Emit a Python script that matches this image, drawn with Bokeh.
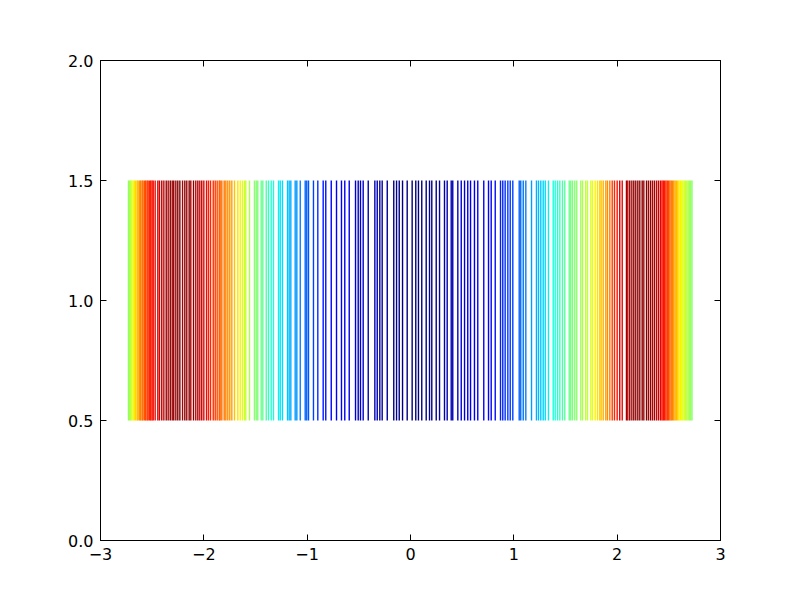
import numpy as np
from bokeh.plotting import figure
from bokeh.models import ColumnDataSource, LinearColorMapper, LinearAxis, FixedTicker
from bokeh.transform import transform
from bokeh.embed import file_html
from bokeh.resources import INLINE

# event positions (x)
event_x = [
    -2.729, -2.718, -2.709, -2.697, -2.684, -2.673, -2.661, -2.646, -2.636, -2.621, -2.611,
    -2.597, -2.588, -2.573, -2.563, -2.549, -2.539, -2.524, -2.514, -2.501, -2.490,
    -2.471, -2.445, -2.429, -2.407, -2.387, -2.364, -2.345, -2.325, -2.306, -2.291, -2.271,
    -2.252, -2.232, -2.206, -2.184, -2.165, -2.142, -2.126, -2.100, -2.078, -2.058, -2.039,
    -2.020, -2.000, -1.974, -1.955, -1.935, -1.909, -1.890, -1.871, -1.851,
    -1.842, -1.826, -1.803, -1.787, -1.768, -1.749, -1.729, -1.703, -1.671, -1.648, -1.626,
    -1.606, -1.594, -1.558, -1.510, -1.493, -1.478, -1.445, -1.429, -1.396, -1.374, -1.348,
    -1.326, -1.277, -1.261, -1.239, -1.190, -1.174, -1.158, -1.116, -1.100, -1.067, -1.019,
    -1.004, -0.987, -0.939, -0.897,
    -0.845, -0.820, -0.767, -0.716, -0.668, -0.636, -0.593, -0.532, -0.506, -0.484, -0.458,
    -0.409, -0.345, -0.322, -0.297, -0.274, -0.225, -0.162, -0.135, -0.109, -0.077, -0.032,
    0.016, 0.051,
    0.077, 0.109, 0.152, 0.184, 0.206, 0.249, 0.281, 0.329, 0.355, 0.394, 0.409, 0.458,
    0.491, 0.523, 0.554, 0.581, 0.619, 0.651, 0.709, 0.755, 0.781, 0.820, 0.871, 0.893,
    0.916, 0.942, 0.965, 0.990,
    1.052, 1.067, 1.091, 1.116, 1.171, 1.219, 1.239, 1.261, 1.284, 1.304, 1.335, 1.381,
    1.400, 1.423, 1.445, 1.471, 1.493, 1.536, 1.551, 1.568, 1.590, 1.609, 1.648, 1.665,
    1.696, 1.713, 1.745, 1.761, 1.787, 1.810, 1.832, 1.845, 1.865, 1.890, 1.906, 1.929,
    1.952, 1.974, 2.000, 2.025, 2.049, 2.090, 2.103, 2.122, 2.142, 2.161, 2.180, 2.200,
    2.219, 2.242, 2.258, 2.284, 2.303, 2.323, 2.342, 2.361, 2.381, 2.400, 2.419,
    2.434, 2.447, 2.459, 2.472, 2.485, 2.497, 2.510, 2.523, 2.535, 2.548, 2.561, 2.573,
    2.586, 2.598, 2.611, 2.624, 2.636, 2.649, 2.662, 2.674, 2.687, 2.700, 2.712, 2.724,
]

# colour value (0..1 on the jet map) of each event
event_value = [
    0.52, 0.55, 0.58, 0.60, 0.63, 0.66, 0.68, 0.70, 0.73, 0.75, 0.77,
    0.79, 0.80, 0.82, 0.83, 0.85, 0.86, 0.87, 0.88, 0.89, 0.90,
    0.90, 0.93, 0.92, 0.96, 0.93, 0.98, 0.95, 1.00, 0.96, 1.00, 0.97,
    1.00, 1.00, 0.96, 1.00, 0.97, 1.00, 0.96, 0.99, 0.94, 0.97, 0.93,
    0.95, 0.91, 0.90, 0.88, 0.87, 0.86, 0.85, 0.83, 0.82,
    0.80, 0.79, 0.78, 0.77, 0.76, 0.75, 0.74, 0.70, 0.67, 0.65, 0.62,
    0.60, 0.59, 0.56, 0.52, 0.51, 0.50, 0.48, 0.47, 0.44, 0.42, 0.40,
    0.38, 0.36, 0.35, 0.34, 0.32, 0.31, 0.30, 0.28, 0.27, 0.25, 0.23,
    0.22, 0.21, 0.19, 0.17,
    0.15, 0.14, 0.13, 0.12, 0.11, 0.10, 0.09, 0.07, 0.07, 0.06, 0.06,
    0.05, 0.04, 0.04, 0.03, 0.03, 0.02, 0.01, 0.01, 0.00, 0.00, 0.00,
    0.00, 0.00,
    0.00, 0.00, 0.01, 0.01, 0.01, 0.02, 0.03, 0.04, 0.04, 0.05, 0.05, 0.06,
    0.07, 0.08, 0.09, 0.09, 0.10, 0.11, 0.12, 0.13, 0.13, 0.14, 0.16, 0.16,
    0.17, 0.18, 0.18, 0.19,
    0.22, 0.23, 0.24, 0.25, 0.28, 0.30, 0.31, 0.32, 0.33, 0.34, 0.36, 0.38,
    0.39, 0.40, 0.42, 0.44, 0.46, 0.48, 0.49, 0.50, 0.51, 0.52, 0.55, 0.56,
    0.58, 0.59, 0.62, 0.63, 0.65, 0.67, 0.69, 0.70, 0.72, 0.74, 0.76, 0.78,
    0.84, 0.87, 0.89, 0.93, 0.90, 0.97, 0.94, 1.00, 0.96, 1.00, 0.97, 1.00,
    0.98, 1.00, 0.96, 1.00, 0.97, 0.99, 0.95, 0.97, 0.93, 0.94, 0.91,
    0.90, 0.89, 0.88, 0.87, 0.85, 0.83, 0.81, 0.79, 0.77, 0.75, 0.73, 0.71,
    0.69, 0.67, 0.65, 0.64, 0.62, 0.61, 0.59, 0.58, 0.56, 0.55, 0.53, 0.52,
]

line_offset = 1.0
line_length = 1.0

x_ticks = [-3, -2, -1, 0, 1, 2, 3]
x_tick_labels = ["\u22123", "\u22122", "\u22121", "0", "1", "2", "3"]
y_ticks = [0.0, 0.5, 1.0, 1.5, 2.0]
y_tick_labels = ["0.0", "0.5", "1.0", "1.5", "2.0"]

# jet colormap palette (style)
def jet_palette(n=256):
    t = np.linspace(0, 1, n)
    r = np.interp(t, [0, 0.35, 0.66, 0.89, 1], [0, 0, 1, 1, 0.5])
    g = np.interp(t, [0, 0.125, 0.375, 0.64, 0.91, 1], [0, 0, 1, 1, 0, 0])
    b = np.interp(t, [0, 0.11, 0.34, 0.65, 1], [0.5, 1, 1, 0, 0])
    return ["#%02x%02x%02x" % (int(round(a * 255)), int(round(c * 255)), int(round(d * 255)))
            for a, c, d in zip(r, g, b)]

n = len(event_x)
src = ColumnDataSource(dict(
    x=event_x,
    y0=[line_offset - line_length / 2] * n,
    y1=[line_offset + line_length / 2] * n,
    v=event_value[:n],
))

mapper = LinearColorMapper(palette=jet_palette(), low=0.0, high=1.0)

p = figure(frame_width=620, frame_height=480,
           min_border_left=100, min_border_right=64, min_border_top=60, min_border_bottom=44,
           x_range=(-3, 3), y_range=(0, 2),
           output_backend="svg", toolbar_location=None)

p.segment(x0="x", y0="y0", x1="x", y1="y1", source=src,
          line_color=transform("v", mapper), line_width=1.4)

p.xgrid.visible = False
p.ygrid.visible = False
p.outline_line_color = "black"
p.outline_line_width = 1
p.outline_line_alpha = 1.0
p.background_fill_color = "white"
p.border_fill_color = "white"

def style_axis(ax, ticks, labels, show_labels=True):
    ax.ticker = FixedTicker(ticks=ticks)
    ax.major_label_overrides = {t: l for t, l in zip(ticks, labels)}
    ax.major_tick_in = 6
    ax.major_tick_out = 0
    ax.minor_tick_in = 0
    ax.minor_tick_out = 0
    ax.axis_line_color = "black"
    ax.major_tick_line_color = "black"
    ax.major_label_text_font = "DejaVu Sans"
    ax.major_label_text_font_size = "16px"
    ax.major_label_text_color = "black"
    ax.major_label_standoff = 7
    if not show_labels:
        ax.major_label_text_alpha = 0.0

style_axis(p.xaxis[0], x_ticks, x_tick_labels)
style_axis(p.yaxis[0], y_ticks, y_tick_labels)

top = LinearAxis()
style_axis(top, x_ticks, x_tick_labels, show_labels=False)
p.add_layout(top, "above")
right = LinearAxis()
style_axis(right, y_ticks, y_tick_labels, show_labels=False)
p.add_layout(right, "right")

open("out.html", "w").write(file_html(p, INLINE))
